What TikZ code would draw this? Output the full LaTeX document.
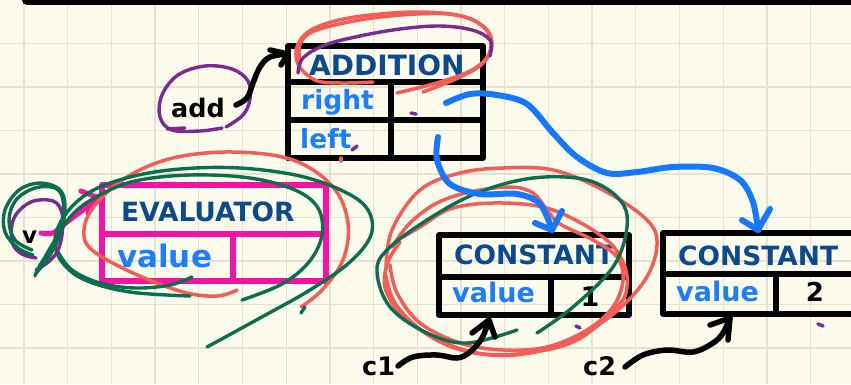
\documentclass[tikz,border=0pt]{standalone}
\usepackage{fontspec}
\setmainfont{DejaVu Sans}
\definecolor{bg}{HTML}{FDFBEC}
\definecolor{gridc}{HTML}{E6E2D2}
\definecolor{hdrblue}{HTML}{0B4A8E}
\definecolor{fieldblue}{HTML}{1A7EFF}
\definecolor{arrowblue}{HTML}{1479FF}
\definecolor{mag}{HTML}{F912A2}
\definecolor{redpen}{HTML}{F45D57}
\definecolor{greenpen}{HTML}{0B6E4F}
\definecolor{purplepen}{HTML}{7B2A92}
\tikzset{
  gridline/.style={draw=gridc, line width=1.3},
  tbl/.style={draw=black, line width=5.5, line join=round, inner sep=0, minimum width=10, minimum height=10},
  magtbl/.style={tbl, draw=mag, line width=6},
  divider/.style={line width=5.5, line cap=butt},
  hdrtext/.style={anchor=base west, inner sep=0, text=hdrblue, font=\fontsize{26.5}{28}\selectfont\bfseries},
  fldtext/.style={anchor=base west, inner sep=0, text=fieldblue, font=\fontsize{26.5}{28}\selectfont\bfseries},
  lbltext/.style={anchor=base west, inner sep=0, text=black, font=\fontsize{25.5}{28}\selectfont\bfseries},
  valtext/.style={anchor=base, inner sep=0, text=black, font=\fontsize{26}{28}\selectfont\bfseries},
  blackpen/.style={draw=black, line width=5.5, line cap=round, line join=round},
  bluepen/.style={draw=arrowblue, line width=6, line cap=round, line join=round},
  magpen/.style={draw=mag, line width=5, line cap=round, line join=round},
  redstroke/.style={draw=redpen, line width=3.5, line cap=round, line join=round},
  greenstroke/.style={draw=greenpen, line width=3.4, line cap=round, line join=round},
  purplestroke/.style={draw=purplepen, line width=3.4, line cap=round, line join=round},
  dotmark/.style={line width=3.5, line cap=round},
}
\begin{document}
\begin{tikzpicture}[x=1pt, y=-1pt]
\useasboundingbox (0,0) rectangle (851,384);
\clip (0,0) rectangle (851,384);
\fill[bg] (0,0) rectangle (851,384);
% grid
\foreach \i in {0,...,19} \draw[gridline] ({24+43.7*\i},0) -- ({24+43.7*\i},384);
\foreach \j in {1,...,8} \draw[gridline] (0,{43.5*\j}) -- (851,{43.5*\j});
% top bar
\coordinate (barL) at (27,0);
\coordinate (barR) at (870,0);
\draw[line width=10, line cap=round] (barL) -- (barR);

% ---------- tables ----------
% ADDITION
\node[tbl, minimum width=195, minimum height=112] (addition) at (385.5,102) {};
\draw[divider] (addition.west |- 0,82) -- (addition.east |- 0,82);
\draw[divider] (addition.west |- 0,120) -- (addition.east |- 0,120);
\draw[divider] (391,82) -- (addition.south -| 391,0);
\node[hdrtext, font=\fontsize{28}{30}\selectfont\bfseries] (tadd) at (309,75) {ADDITION};
\node[fldtext] (tright) at (301,109) {right};
\node[fldtext] (tleft) at (300,148) {left};

% EVALUATOR
\node[magtbl, minimum width=224, minimum height=96] (evaluator) at (214,233) {};
\draw[divider, draw=mag, line width=6] (evaluator.west |- 0,234) -- (evaluator.east |- 0,234);
\draw[divider, draw=mag, line width=6] (233,234) -- (evaluator.south -| 233,0);
\node[hdrtext] (teval) at (121,221) {EVALUATOR};
\node[fldtext, font=\fontsize{31}{33}\selectfont\bfseries] (tevalval) at (117,267) {value};

% CONSTANT 1
\node[tbl, minimum width=190, minimum height=80] (const1) at (534,275) {};
\draw[divider] (const1.west |- 0,277) -- (const1.east |- 0,277);
\draw[divider] (551,277) -- (const1.south -| 551,0);
\node[hdrtext] (tc1) at (454,264) {CONSTANT};
\node[fldtext, font=\fontsize{27}{29}\selectfont\bfseries] (tc1val) at (452,302) {value};
\node[valtext, font=\fontsize{27}{29}\selectfont\bfseries] (one) at (590,306) {1};

% CONSTANT 2
\node[tbl, minimum width=200, minimum height=81] (const2) at (763,273.5) {};
\draw[divider] (const2.west |- 0,274) -- (const2.east |- 0,274);
\draw[divider] (776,274) -- (const2.south -| 776,0);
\node[hdrtext] (tc2) at (678,265) {CONSTANT};
\node[fldtext, font=\fontsize{27}{29}\selectfont\bfseries] (tc2val) at (676,301) {value};
\node[valtext] (two) at (815,301) {2};

% ---------- labels ----------
\node[lbltext] (ladd) at (171,117) {add};
\node[lbltext] (lc1) at (362,375) {c1};
\node[lbltext] (lc2) at (583,375) {c2};
\node[lbltext, font=\fontsize{23}{25}\selectfont\bfseries] (lv) at (22,243) {v};

% ---------- scribbles (under arrows) ----------
% red around ADDITION header
\draw[redstroke] plot[smooth, tension=0.6] coordinates {(373,82) (340,83) (315,80) (298,64) (298,44) (315,28) (355,17) (420,12) (468,18) (489,34) (489,54) (472,70) (440,82) (397,93)};
\draw[redstroke] plot[smooth, tension=0.6] coordinates {(300,62) (301,42) (320,29) (380,17) (450,14) (484,27) (492,46) (482,64) (458,78) (423,92)};
% purple over ADDITION
\draw[purplestroke] plot[smooth, tension=0.6] coordinates {(298,73) (303,58) (325,45) (360,36) (400,29) (440,26) (472,30) (490,40) (490,56)};
% purple around add
\draw[purplestroke] plot[smooth, tension=0.6] coordinates {(222,128) (200,131) (172,130) (160,117) (162,95) (178,75) (205,66) (232,69) (248,81) (250,99) (243,115) (226,127)};
\draw[purplestroke] (167,129) -- (185,128);

% magenta arrow v -> EVALUATOR (under the green loops)
\coordinate (vS) at (41,233);
\coordinate (vT) at (99,198);
\draw[magpen] plot[smooth, tension=0.5] coordinates {(vS) (53,233) (67,222) (vT)};
\draw[magpen] (81,191) -- (vT) -- (88,213);

% red around EVALUATOR
\draw[redstroke] plot[smooth, tension=0.6] coordinates {(237,290) (217,296) (183,292) (133,273) (92,250) (84,230) (95,205) (127,177) (173,158) (233,152) (293,160) (333,187) (348,223) (343,260) (322,290) (301,307)};
% green around EVALUATOR
\draw[greenstroke] plot[smooth, tension=0.6] coordinates {(207,347) (260,318) (310,290) (350,262) (371,235) (368,210) (345,192) (300,176) (240,168) (180,169) (130,177) (90,192) (65,215) (55,240) (62,262) (85,280) (130,292) (190,296)};
\draw[greenstroke] plot[smooth, tension=0.6] coordinates {(242,300) (282,284) (309,262) (322,235) (318,208) (295,190) (250,178) (190,175) (135,181) (98,196) (72,215) (52,245) (37,272)};
\draw[greenstroke] plot[smooth, tension=0.6] coordinates {(192,277) (170,285) (135,288) (100,283) (72,270) (58,252)};
\draw[greenstroke] (301,313) -- (305,307);
% purple around v
\draw[purplestroke] plot[smooth, tension=0.6] coordinates {(36,270) (47,263) (57,252) (62,235) (62,213) (53,201) (31,202) (14,218) (12,242) (22,254) (36,258)};
% green around v
\draw[greenstroke] plot[smooth, tension=0.6] coordinates {(37,272) (50,255) (61,232) (65,205) (59,189) (40,183) (19,190) (5,210) (5,232) (18,248) (33,255)};
\draw[greenstroke] plot[smooth, tension=0.6] coordinates {(32,250) (15,240) (9,220) (16,200) (35,188) (55,188) (63,200) (62,225) (52,248) (40,265) (35,276)};

% red around CONSTANT 1
\draw[redstroke] plot[smooth, tension=0.6] coordinates {(386,268) (392,230) (420,190) (460,173) (503,168) (553,170) (603,190) (647,220) (657,245) (645,280) (612,315) (567,342) (515,355) (465,351) (425,333) (395,303) (385,272)};
\draw[redstroke] plot[smooth, tension=0.6] coordinates {(392,247) (410,223) (437,203) (470,192) (510,187) (533,193) (547,210) (560,224) (593,240) (617,257) (623,280) (613,307) (587,330) (547,347) (503,350) (460,343) (420,323) (397,293) (390,265)};
\draw[redstroke] plot[smooth, tension=0.6] coordinates {(403,237) (420,227) (453,208) (503,203) (553,210) (603,237) (623,262) (627,287) (617,307) (577,340) (527,353) (477,353) (433,337) (400,313) (385,287) (388,262) (400,242)};
% green around CONSTANT 1
\draw[greenstroke] plot[smooth, tension=0.6] coordinates {(537,333) (573,307) (613,267) (627,227) (620,200) (587,180) (533,178) (477,193) (427,220) (387,250) (377,272) (390,307) (427,333) (467,343) (517,330)};

% small marks
\draw[purplepen, dotmark] (411,113) -- (416,114);
\draw[purplepen, dotmark] (352,150) -- (357,146);
\draw[purplepen, dotmark] (576,326) -- (580,328);
\draw[purplepen, dotmark] (818,324) -- (823,326);
\draw[redpen, dotmark] (341,158) -- (341,161);

% ---------- arrows ----------
% add -> ADDITION
\coordinate (addS) at (236,105);
\coordinate (addT) at (288,54);
\draw[blackpen] plot[smooth, tension=0.6] coordinates {(addS) (247,98) (253,83) (260,67) (270,57) (addT)};
\draw[blackpen] (270,50) -- (addT) -- (281,65);
% c1 -> CONSTANT 1
\coordinate (c1S) at (398,366);
\coordinate (c1T) at (489,320);
\draw[blackpen] plot[smooth, tension=0.6] coordinates {(c1S) (413,357) (437,355) (457,358) (470,352) (482,338) (c1T)};
\draw[blackpen] (472,333) -- (c1T) -- (495,337);
% c2 -> CONSTANT 2
\coordinate (c2S) at (625,367);
\coordinate (c2T) at (730,318);
\draw[blackpen] plot[smooth, tension=0.6] coordinates {(c2S) (643,355) (667,350) (693,352) (713,343) (723,333) (c2T)};
\draw[blackpen] (710,325) -- (c2T) -- (728,340);
% right -> CONSTANT 2
\coordinate (rS) at (446,103);
\coordinate (rT) at (758,230);
\draw[bluepen] plot[smooth, tension=0.55] coordinates {(rS) (470,94) (497,95) (527,104) (553,133) (577,157) (607,173) (637,172) (673,167) (713,168) (740,180) (753,202) (rT)};
\draw[bluepen] (742,220) -- (rT) -- (770,209);
% left -> CONSTANT 1
\coordinate (lS) at (438,137);
\coordinate (lT) at (552,230);
\draw[bluepen] plot[smooth, tension=0.55] coordinates {(lS) (437,160) (450,184) (480,194) (517,194) (540,204) (lT)};
\draw[bluepen] (535,223) -- (lT) -- (562,211);
\end{tikzpicture}
\end{document}
